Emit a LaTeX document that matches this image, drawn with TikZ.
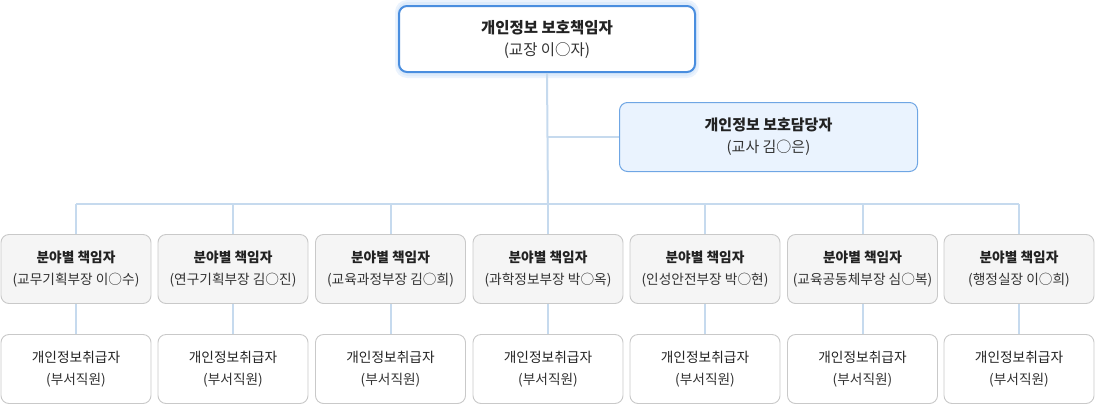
\documentclass[tikz,border=0pt]{standalone}
\usepackage{fontspec}
\setmainfont{Noto Sans CJK KR}
\definecolor{txt}{HTML}{222222}
\definecolor{subtxt}{HTML}{333333}
\definecolor{linec}{HTML}{C6DAEE}
\definecolor{boxb}{HTML}{C9C9C9}
\definecolor{midfill}{HTML}{F5F5F5}
\definecolor{topb}{HTML}{4A8EDF}
\definecolor{halo}{HTML}{DDEBFB}
\definecolor{subfill}{HTML}{EAF3FE}
\definecolor{subb}{HTML}{6FA6E4}
\begin{document}
\begin{tikzpicture}[x=1pt,y=1pt,
  basebox/.style={rectangle, rounded corners=8pt, align=center, text=txt, inner sep=0pt},
  topbox/.style={basebox, draw=topb, line width=2pt, fill=white, minimum width=296pt, minimum height=66pt,
     font=\fontsize{15.5}{22}\selectfont},
  dutybox/.style={basebox, draw=subb, line width=1pt, fill=subfill, minimum width=298pt, minimum height=69pt,
     font=\fontsize{15}{22}\selectfont},
  midbox/.style={basebox, draw=boxb, line width=0.9pt, fill=midfill, minimum width=150pt, minimum height=69pt,
     font=\fontsize{13.7}{22}\selectfont},
  lowbox/.style={basebox, draw=boxb, line width=0.9pt, fill=white, minimum width=150pt, minimum height=69pt,
     font=\fontsize{13.7}{22}\selectfont},
  conn/.style={draw=linec, line width=2pt}
]
\useasboundingbox (0,0) rectangle (1095,-405);
% halo behind top box
\fill[halo!60!white, rounded corners=12pt] (395,0) rectangle (699,-78);
\fill[halo, rounded corners=11pt] (397,-2) rectangle (697,-76);

\coordinate (bus) at (548,-204);
\coordinate (busl) at (76,-204);
\coordinate (busr) at (1019,-204);

\node[topbox] (top) at (547,-39) {{\bfseries 개인정보 보호책임자}\\{\color{subtxt}(교장 이○자)}};
\node[dutybox] (duty) at (768.5,-137) {{\bfseries 개인정보 보호담당자}\\{\color{subtxt}(교사 김○은)}};

\foreach \i/\x/\who in {1/76/교무기획부장 이○수, 2/233/연구기획부장 김○진, 3/390.5/교육과정부장 김○희,
   4/548/과학정보부장 박○옥, 5/705/인성안전부장 박○현, 6/862.5/교육공동체부장 심○복, 7/1019/행정실장 이○희}{
  \node[midbox] (m\i) at (\x,-269) {{\bfseries 분야별 책임자}\\{\color{subtxt}(\who)}};
  \node[lowbox] (b\i) at (\x,-369) {개인정보취급자\\{\color{subtxt}(부서직원)}};
}

\draw[conn] (top.south) -- (bus);
\draw[conn] (duty.west) -- (duty.west -| top.south);
\draw[conn] (busl) -- (busr);
\foreach \i in {1,...,7}{
  \draw[conn] (m\i.north) -- (m\i.north |- bus);
  \draw[conn] (m\i.south) -- (b\i.north);
}
\end{tikzpicture}
\end{document}
